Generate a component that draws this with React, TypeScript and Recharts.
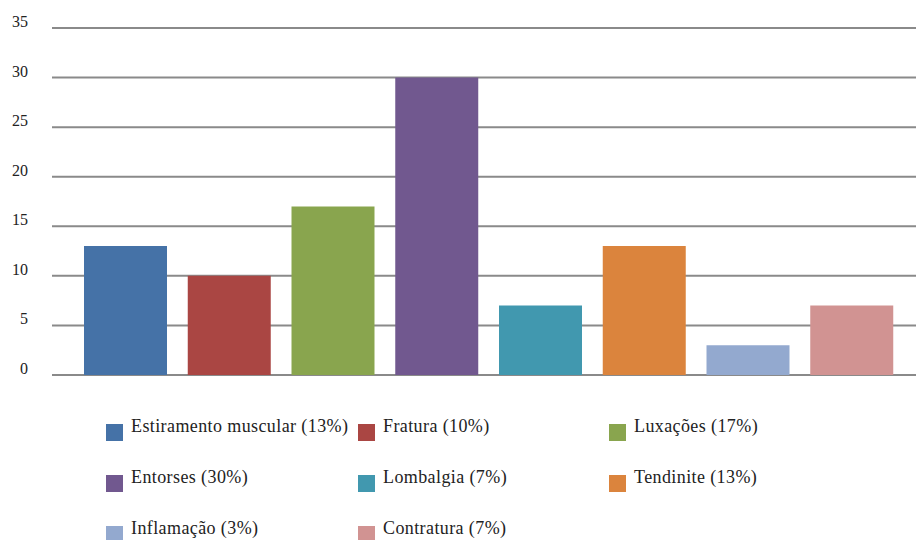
import React from "react";
import { BarChart, Bar, XAxis, YAxis, CartesianGrid, Cell } from "recharts";

const categories = [
  "Estiramento muscular",
  "Fratura",
  "Luxações",
  "Entorses",
  "Lombalgia",
  "Tendinite",
  "Inflamação",
  "Contratura",
];
const values = [13, 10, 17, 30, 7, 13, 3, 7];
const colors = ["#4572A7", "#AA4643", "#89A54E", "#71588F", "#4198AF", "#DB843D", "#93A9CF", "#D19392"];
const yTicks = [0, 5, 10, 15, 20, 25, 30, 35];

const FONT = "Liberation Serif";

const data = categories.map((name, i) => ({ name, value: values[i] }));

function YTick({ x, y, payload }: { x?: number; y?: number; payload?: { value: number } }) {
  return (
    <text x={x} y={(y ?? 0) - 1} textAnchor="end" fontSize={16} fontFamily={FONT} fill="#222">
      {payload?.value}
    </text>
  );
}

function ChartLegend() {
  const colX = [106, 358, 609];
  const rowBase = 424;
  return (
    <div style={{ position: "absolute", left: 0, top: 0, width: 916, height: 540, pointerEvents: "none" }}>
      {categories.map((name, i) => {
        const col = i % 3;
        const row = Math.floor(i / 3);
        const top = rowBase + row * 51;
        return (
          <div key={name}>
            <div
              style={{
                position: "absolute",
                left: colX[col],
                top: top,
                width: 17,
                height: 17,
                background: colors[i],
              }}
            />
            <div
              style={{
                position: "absolute",
                left: colX[col] + 25,
                top: top - 7,
                fontFamily: FONT,
                fontSize: 18,
                lineHeight: "18px",
                letterSpacing: 0.4,
                color: "#222",
                whiteSpace: "nowrap",
              }}
            >
              {`${name} (${values[i]}%)`}
            </div>
          </div>
        );
      })}
    </div>
  );
}

export default function App() {
  return (
    <div style={{ position: "absolute", left: 0, top: 0, width: 916, height: 540, background: "#fff" }}>
      <BarChart
        width={916}
        height={540}
        data={data}
        margin={{ top: 28, right: 0, left: 0, bottom: 165 }}
        barCategoryGap={10}
      >
        <CartesianGrid vertical={false} stroke="#8a8a8a" strokeWidth={2} />
        <XAxis dataKey="name" hide padding={{ left: 22, right: 12 }} />
        <YAxis
          domain={[0, 35]}
          ticks={yTicks}
          width={52}
          axisLine={false}
          tickLine={false}
          tickSize={0}
          tickMargin={24}
          tick={<YTick />}
          interval={0}
        />
        <Bar dataKey="value" isAnimationActive={false} barSize={83}>
          {data.map((d, i) => (
            <Cell key={d.name} fill={colors[i]} />
          ))}
        </Bar>
      </BarChart>
      <ChartLegend />
    </div>
  );
}
